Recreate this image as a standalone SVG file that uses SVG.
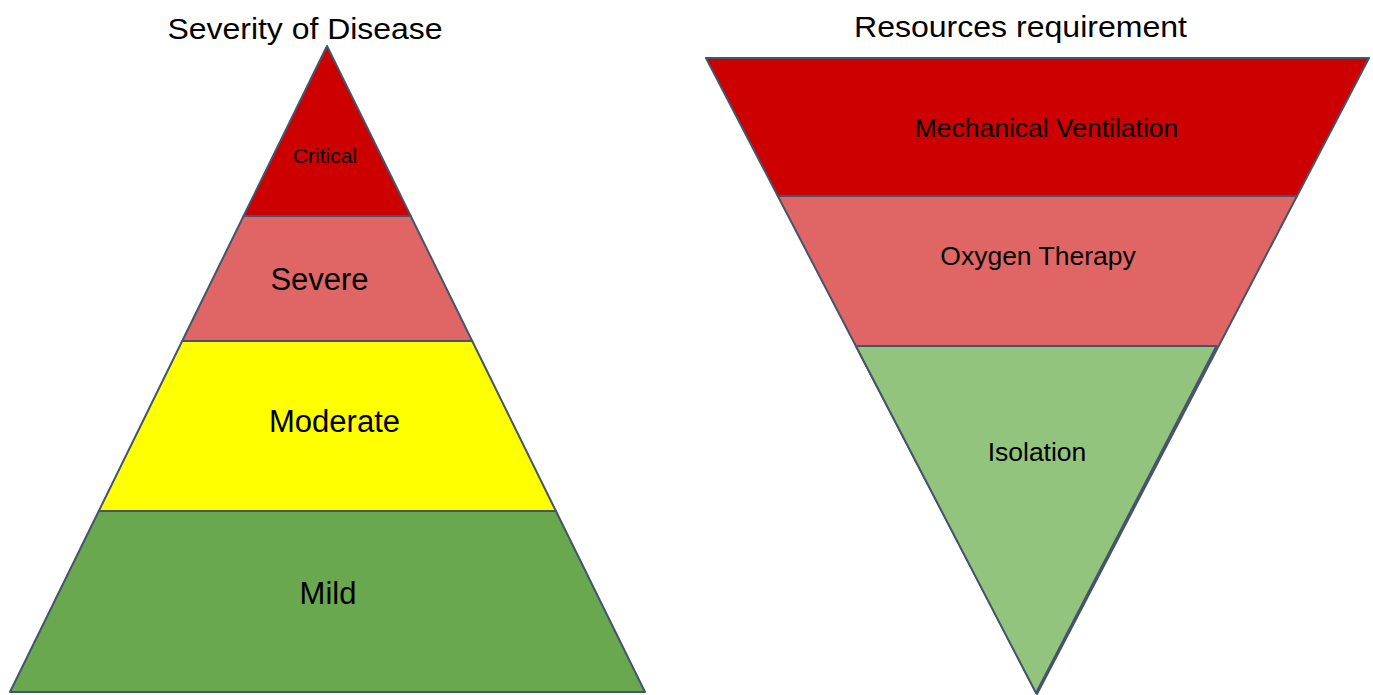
<svg xmlns="http://www.w3.org/2000/svg" width="1373" height="695" viewBox="0 0 1373 695">
<style>
.s{stroke:#44546A;stroke-width:2;stroke-linejoin:round}
.t{font-family:"Liberation Sans",Arial,sans-serif;fill:#000;text-anchor:middle}
</style>
<rect width="1373" height="695" fill="#fff"/>
<g id="title-left"><text class="t" x="305" y="39" font-size="30" textLength="275" lengthAdjust="spacingAndGlyphs">Severity of Disease</text></g>
<g id="title-right"><text class="t" x="1020.5" y="37" font-size="30" textLength="333" lengthAdjust="spacingAndGlyphs">Resources requirement</text></g>

<g id="mild">
<polygon class="s" points="98.8,511 555.9,511 645,692 10,692" fill="#6AA84F"/>
<text class="t" x="328" y="604" font-size="31">Mild</text>
</g>
<g id="moderate">
<polygon class="s" points="182.2,341 472.2,341 555.9,511 98.8,511" fill="#FFFF00"/>
<text class="t" x="334.5" y="432" font-size="31">Moderate</text>
</g>
<g id="severe">
<polygon class="s" points="243.6,216 410.7,216 472.2,341 182.2,341" fill="#E06666"/>
<text class="t" x="319.5" y="290" font-size="31">Severe</text>
</g>
<g id="critical">
<polygon class="s" points="327,46 410.7,216 243.6,216" fill="#CC0000"/>
<text class="t" x="325" y="163" font-size="21">Critical</text>
</g>

<g id="oxygen-therapy">
<polygon class="s" points="777.8,196 1297,196 1037,694 " fill="#E06666"/>
<text class="t" x="1038" y="265" font-size="26.5">Oxygen Therapy</text>
</g>
<g id="mechanical-ventilation">
<polygon class="s" points="706,58 1369,58 1297,196 777.8,196" fill="#CC0000"/>
<text class="t" x="1046.5" y="137" font-size="26.5">Mechanical Ventilation</text>
</g>
<g id="isolation">
<polygon class="s" points="855.9,346 1216.5,346 1036,693" fill="#93C47D"/>
<text class="t" x="1037" y="461" font-size="26.5">Isolation</text>
</g>
<g id="connectors"></g>
</svg>
